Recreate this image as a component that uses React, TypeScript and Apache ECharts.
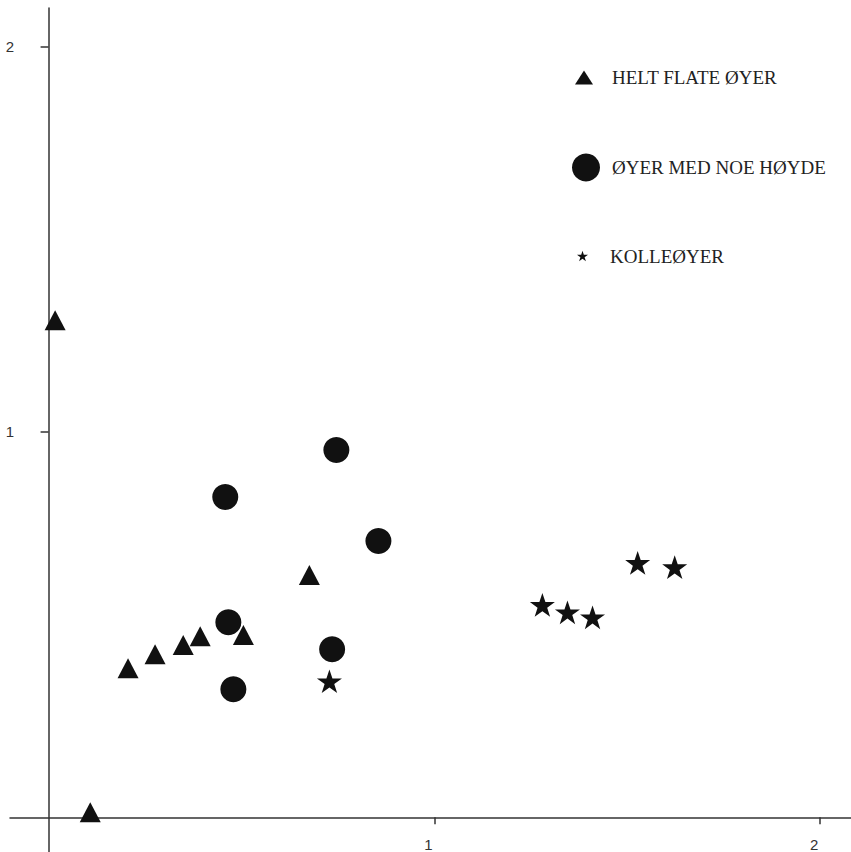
import React, { useEffect, useRef } from "react";
import * as echarts from "echarts";

const seriesNames = ["HELT FLATE ØYER", "ØYER MED NOE HØYDE", "KOLLEØYER"];

const flatIslands: [number, number][] = [
  [0.017, 1.29],
  [0.108, 0.013],
  [0.206, 0.387],
  [0.276, 0.423],
  [0.349, 0.447],
  [0.393, 0.47],
  [0.505, 0.473],
  [0.676, 0.629],
];

const someHeightIslands: [number, number][] = [
  [0.458, 0.831],
  [0.746, 0.953],
  [0.855, 0.717],
  [0.466, 0.506],
  [0.735, 0.436],
  [0.479, 0.332],
];

const hillIslands: [number, number][] = [
  [0.728, 0.353],
  [1.28, 0.551],
  [1.345, 0.532],
  [1.41, 0.519],
  [1.527, 0.66],
  [1.623, 0.649],
];

const xTicks = [1, 2];
const yTicks = [1, 2];

const STAR =
  "path://M50,0 L61.8,35.1 L98.9,35.1 L68.8,57.1 L80.2,92.7 L50,70.9 L19.8,92.7 L31.2,57.1 L1.1,35.1 L38.2,35.1 Z";

export default function App() {
  const ref = useRef<HTMLDivElement>(null);
  useEffect(() => {
    if (!ref.current) return;
    const chart = echarts.init(ref.current, undefined, { renderer: "svg" });
    const ink = "#111111";
    const legendText = {
      fontFamily: "Liberation Serif",
      fontSize: 19,
      color: "#222",
    };
    chart.setOption({
      animation: false,
      backgroundColor: "#ffffff",
      grid: { left: 10, right: 0, top: 8, bottom: 0, containLabel: false, outerBoundsMode: "none" },
      xAxis: {
        type: "value",
        min: -0.1,
        max: 2.08,
        splitLine: { show: false },
        axisLine: { onZero: true, lineStyle: { color: "#333", width: 1.5 } },
        axisTick: { show: true, customValues: xTicks, length: 7, lineStyle: { color: "#333", width: 1.5 } },
        axisLabel: {
          customValues: xTicks,
          margin: -15,
          padding: [0, 12, 0, 0],
          fontFamily: "Liberation Sans",
          fontSize: 15,
          color: "#333",
        },
      },
      yAxis: {
        type: "value",
        min: -0.09,
        max: 2.1,
        splitLine: { show: false },
        axisLine: { onZero: true, lineStyle: { color: "#333", width: 1.5 } },
        axisTick: { show: true, customValues: yTicks, length: 8, lineStyle: { color: "#333", width: 1.5 } },
        axisLabel: {
          customValues: yTicks,
          margin: -4,
          padding: [5, 0, 0, 0],
          fontFamily: "Liberation Sans",
          fontSize: 15,
          color: "#333",
        },
      },
      legend: [
        {
          data: [seriesNames[0]],
          left: 575,
          top: 68,
          padding: 0,
          itemWidth: 18,
          itemHeight: 14,
          textStyle: { ...legendText, padding: [0, 0, 0, 14] },
        },
        {
          data: [seriesNames[1]],
          left: 572,
          top: 153.5,
          padding: 0,
          itemWidth: 28,
          itemHeight: 28,
          textStyle: { ...legendText, padding: [0, 0, 0, 7] },
        },
        {
          data: [seriesNames[2]],
          left: 577,
          top: 246.5,
          padding: 0,
          itemWidth: 11,
          itemHeight: 11,
          textStyle: { ...legendText, padding: [0, 0, 0, 17] },
        },
      ],
      series: [
        {
          name: seriesNames[0],
          type: "scatter",
          symbol: "triangle",
          symbolSize: [21, 20],
          itemStyle: { color: ink, opacity: 1 },
          data: flatIslands,
        },
        {
          name: seriesNames[1],
          type: "scatter",
          symbol: "circle",
          symbolSize: 26,
          itemStyle: { color: ink, opacity: 1 },
          data: someHeightIslands,
        },
        {
          name: seriesNames[2],
          type: "scatter",
          symbol: STAR,
          symbolKeepAspect: true,
          symbolSize: 25,
          itemStyle: { color: ink, opacity: 1 },
          data: hillIslands,
        },
      ],
    });
    return () => chart.dispose();
  }, []);
  return (
    <div
      ref={ref}
      style={{ position: "absolute", left: 0, top: 0, width: 851, height: 852, background: "#fff" }}
    />
  );
}
